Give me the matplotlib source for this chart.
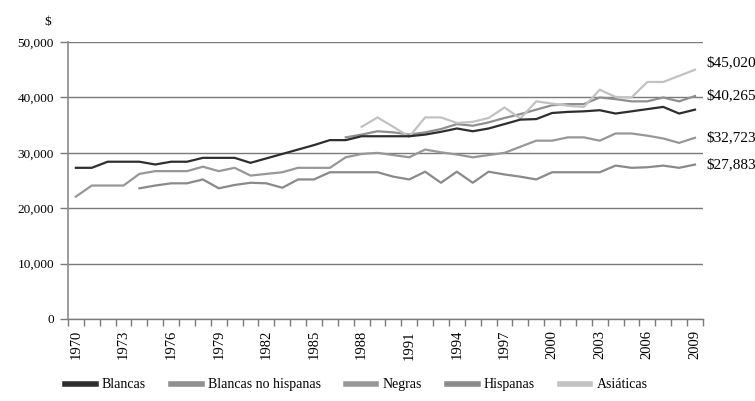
import numpy as np
import matplotlib
matplotlib.use("Agg")
import matplotlib.pyplot as plt

plt.rcParams['font.family'] = ['Liberation Serif', 'DejaVu Serif']

nan = np.nan
years = list(range(1970, 2010))

blancas = [27300, 27300, 28400, 28400, 28400, 27900, 28400, 28400, 29100, 29100,
           29100, 28200, 29000, 29800, 30600, 31400, 32300, 32300, 33000, 33000,
           33000, 33000, 33300, 33800, 34400, 33900, 34400, 35200, 36000, 36100,
           37200, 37400, 37500, 37700, 37100, 37500, 37900, 38300, 37100, 37800]

blancas_no_hisp = [nan] * 17 + [32800, 33300, 33900,
                   33700, 33300, 33700, 34300, 35200, 34900, 35500, 36300, 37000, 37800,
                   38600, 38800, 38800, 40000, 39700, 39300, 39300, 40000, 39300, 40265]

negras = [22100, 24100, 24100, 24100, 26200, 26700, 26700, 26700, 27500, 26700,
          27300, 25900, 26200, 26500, 27300, 27300, 27300, 29200, 29800, 30000,
          29600, 29200, 30600, 30100, 29700, 29200, 29600, 30000, 31100, 32200,
          32200, 32800, 32800, 32200, 33500, 33500, 33100, 32600, 31800, 32723]

hispanas = [nan] * 4 + [23600, 24100, 24500, 24500, 25200, 23600,
            24200, 24600, 24500, 23700, 25200, 25200, 26500, 26500, 26500, 26500,
            25700, 25200, 26600, 24600, 26600, 24600, 26600, 26100, 25700, 25200,
            26500, 26500, 26500, 26500, 27700, 27300, 27400, 27700, 27300, 27883]

asiaticas = [nan] * 18 + [34700, 36400,
             34700, 32900, 36400, 36400, 35400, 35600, 36300, 38200, 36200, 39300,
             38900, 38500, 38300, 41400, 40100, 40000, 42800, 42800, 43900, 45020]

series = [
    ("Blancas", blancas, "#2e2e2e", 5),
    ("Blancas no hispanas", blancas_no_hisp, "#8f8f8f", 3),
    ("Negras", negras, "#979797", 2),
    ("Hispanas", hispanas, "#8a8a8a", 2),
    ("Asiáticas", asiaticas, "#c2c2c2", 4),
]

end_labels = [("$45,020", 45020, 1300), ("$40,265", 40265, 0),
              ("$32,723", 32723, 0), ("$27,883", 27883, 0)]

fig = plt.figure(figsize=(7.55, 4.01), dpi=100)
ax = fig.add_axes([0.090, 0.2045, 0.841, 0.6905])

x = np.arange(len(years))
for name, vals, col, z in series:
    ax.plot(x, vals, color=col, lw=1.6, label=name, zorder=z)

ax.set_xlim(-0.5, len(years) - 0.5)
ax.set_ylim(0, 50000)
ax.set_yticks(range(0, 50001, 10000))
ax.set_yticklabels(["0" if v == 0 else f"{v:,}" for v in range(0, 50001, 10000)])
ax.yaxis.grid(True, color="#7a7a7a", lw=1.0)
ax.set_axisbelow(True)

ax.set_xticks(x[::3])
ax.set_xticklabels([str(y) for y in years[::3]], rotation=90)
ax.set_xticks(np.arange(-0.5, len(years), 1.0), minor=True)
ax.tick_params(axis='x', which='major', length=0, pad=8, labelsize=10.5)
ax.tick_params(axis='x', which='minor', length=5, color="#7a7a7a", width=1)
ax.tick_params(axis='y', length=6, color="#7a7a7a", width=1, pad=4, labelsize=9.5)

for s in ["top", "right"]:
    ax.spines[s].set_visible(False)
ax.spines["left"].set_color("#8a8a8a")
ax.spines["left"].set_linewidth(1.2)
ax.spines["bottom"].set_color("#7a7a7a")
ax.spines["bottom"].set_linewidth(1.0)

for txt, v, off in end_labels:
    ax.annotate(txt, xy=(len(years) - 1, v + off), xytext=(8, 0),
                textcoords="offset points", va="center", ha="left",
                fontsize=11, annotation_clip=False)

fig.text(0.068, 0.945, "$", ha="right", va="center", fontsize=9.5)

leg = fig.legend(loc="center", bbox_to_anchor=(0.472, 0.04), ncol=5, frameon=False,
                 fontsize=10, handlelength=2.2, columnspacing=1.8, handletextpad=0.45)
for h in leg.get_lines():
    h.set_linewidth(4)

fig.savefig("out.png", dpi=100)
